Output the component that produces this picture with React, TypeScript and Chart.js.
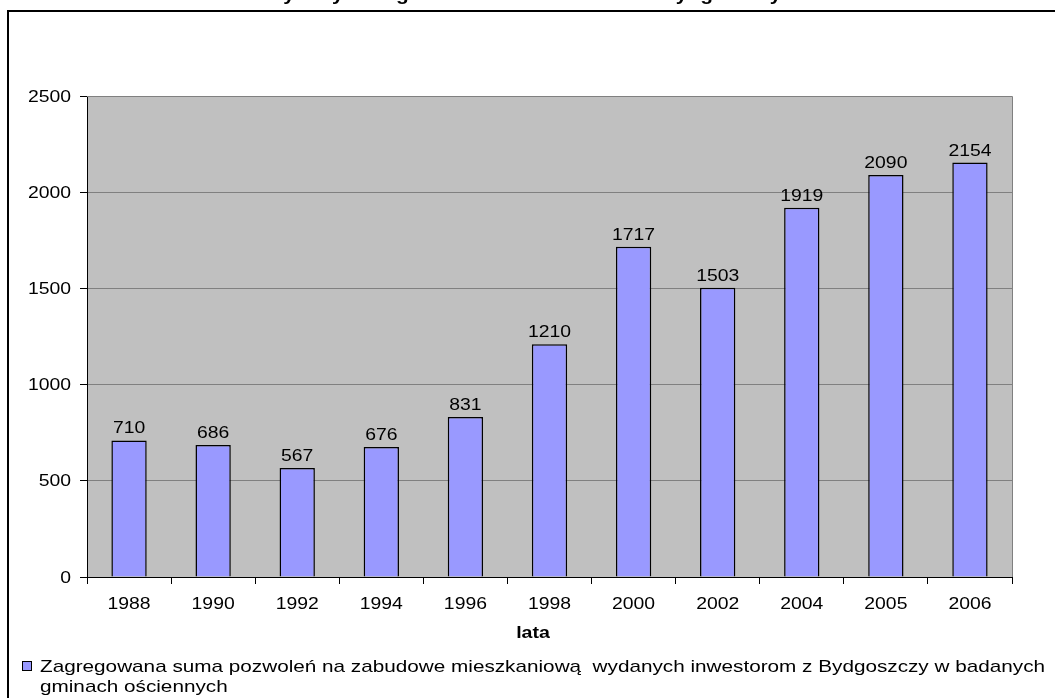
import React, { useEffect, useRef } from "react";
import { Chart, registerables } from "chart.js";

Chart.register(...registerables);

const categories = ["1988", "1990", "1992", "1994", "1996", "1998", "2000", "2002", "2004", "2005", "2006"];
const values = [710, 686, 567, 676, 831, 1210, 1717, 1503, 1919, 2090, 2154];
const yTicks = [0, 500, 1000, 1500, 2000, 2500];
const seriesLabel = "Zagregowana suma pozwoleń na zabudowe mieszkaniową  wydanych inwestorom z Bydgoszczy w badanych gminach ościennych";
const legendLines = ["Zagregowana suma pozwoleń na zabudowe mieszkaniową  wydanych inwestorom z Bydgoszczy w badanych", "gminach ościennych"];
const xAxisTitle = "lata";
const chartTitle = "Liczba zezwoleń wydanych w gminach dla inwestorów z Bydgoszczy";

const FONT = "'Liberation Sans', Arial, sans-serif";
const FS = 17;
const NUM_SX = 1.14;

function stretchText(ctx: any, text: string, x: number, y: number, sx: number, align: string, baseline: string) {
  ctx.save();
  ctx.translate(x, y);
  ctx.scale(sx, 1);
  ctx.textAlign = align;
  ctx.textBaseline = baseline;
  ctx.fillText(text, 0, 0);
  ctx.restore();
}

const decorPlugin = {
  id: "decor",
  beforeDraw(chart: any) {
    const { ctx, chartArea } = chart;
    ctx.save();
    ctx.fillStyle = "#ffffff";
    ctx.fillRect(0, 0, chart.width, chart.height);
    ctx.fillStyle = "#C0C0C0";
    ctx.fillRect(chartArea.left, chartArea.top, chartArea.right - chartArea.left, chartArea.bottom - chartArea.top);
    ctx.restore();
  },
  afterDraw(chart: any) {
    const { ctx, chartArea } = chart;
    const xs = chart.scales.x;
    const ys = chart.scales.y;
    ctx.save();
    // plot border right/top
    ctx.strokeStyle = "#808080";
    ctx.lineWidth = 1;
    ctx.beginPath();
    ctx.moveTo(chartArea.left, chartArea.top + 0.5);
    ctx.lineTo(chartArea.right + 0.5, chartArea.top + 0.5);
    ctx.lineTo(chartArea.right + 0.5, chartArea.bottom);
    ctx.stroke();
    // outer frame
    ctx.strokeStyle = "#000000";
    ctx.lineWidth = 2;
    ctx.strokeRect(8, 11, 1200, 1000);
    ctx.fillStyle = "#000000";
    // cut-off title
    ctx.font = `bold 19px ${FONT}`;
    stretchText(ctx, chartTitle, 440, 0, 1.1, "center", "alphabetic");
    // tick labels
    ctx.font = `${FS}px ${FONT}`;
    yTicks.forEach((v) => {
      stretchText(ctx, String(v), 71, ys.getPixelForValue(v) + 1, NUM_SX, "right", "middle");
    });
    categories.forEach((c, i) => {
      stretchText(ctx, c, xs.getPixelForValue(i), 604, NUM_SX, "center", "middle");
    });
    // axis title
    ctx.font = `bold ${FS}px ${FONT}`;
    stretchText(ctx, xAxisTitle, 533, 633, 1.15, "center", "middle");
    // legend
    ctx.fillStyle = "#9999FF";
    ctx.fillRect(22.5, 661.5, 9, 9);
    ctx.strokeStyle = "#000000";
    ctx.lineWidth = 1;
    ctx.strokeRect(22.5, 661.5, 9, 9);
    ctx.fillStyle = "#000000";
    ctx.font = `${FS}px ${FONT}`;
    const w = ctx.measureText(legendLines[0]).width;
    const sx = (1045 - 40) / w;
    stretchText(ctx, legendLines[0], 40, 672, sx, "left", "alphabetic");
    stretchText(ctx, legendLines[1], 40, 692, sx, "left", "alphabetic");
    ctx.restore();
  },
  afterDatasetsDraw(chart: any) {
    const { ctx } = chart;
    const meta = chart.getDatasetMeta(0);
    ctx.save();
    ctx.fillStyle = "#000000";
    ctx.font = `${FS}px ${FONT}`;
    meta.data.forEach((bar: any, i: number) => {
      stretchText(ctx, String(values[i]), bar.x, bar.y - 7, NUM_SX, "center", "alphabetic");
    });
    ctx.restore();
  },
};

export default function App() {
  const ref = useRef<HTMLCanvasElement | null>(null);
  useEffect(() => {
    if (!ref.current) return;
    const chart = new Chart(ref.current, {
      type: "bar",
      data: {
        labels: categories,
        datasets: [
          {
            label: seriesLabel,
            data: values,
            backgroundColor: "#9999FF",
            borderColor: "#000000",
            borderWidth: 1.5,
            categoryPercentage: 0.42,
            barPercentage: 1,
          },
        ],
      },
      options: {
        animation: false,
        responsive: false,
        devicePixelRatio: 1,
        layout: { padding: { left: 0, top: 96, right: 43, bottom: 0 } },
        plugins: { legend: { display: false }, title: { display: false }, tooltip: { enabled: false } },
        scales: {
          x: {
            afterFit(scale: any) {
              scale.height = 121;
            },
            grid: { offset: true, drawOnChartArea: false, color: "#000000", tickLength: 7, tickColor: "#000000" },
            border: { color: "#000000" },
            ticks: { display: false },
          },
          y: {
            min: 0,
            max: 2500,
            afterFit(scale: any) {
              scale.width = 87;
            },
            afterBuildTicks(scale: any) {
              scale.ticks = yTicks.map((v) => ({ value: v }));
            },
            grid: { color: "#808080", tickLength: 7, tickColor: "#000000" },
            border: { color: "#000000" },
            ticks: { display: false },
          },
        },
      },
      plugins: [decorPlugin],
    });
    return () => chart.destroy();
  }, []);
  return (
    <div style={{ position: "fixed", left: 0, top: 0, width: 1055, height: 698 }}>
      <canvas ref={ref} width={1055} height={698} style={{ display: "block", width: 1055, height: 698 }} />
    </div>
  );
}
